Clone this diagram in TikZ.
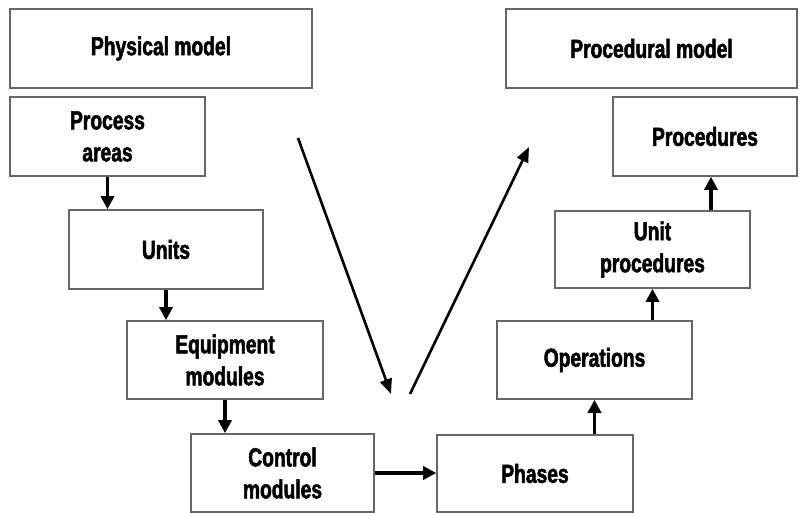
\documentclass[tikz,border=0pt]{standalone}
\usepackage{fontspec}
\setmainfont{Liberation Sans}[FakeStretch=0.74, BoldFeatures={FakeBold=2}]
\usetikzlibrary{arrows.meta,positioning}

\tikzset{
  box/.style={draw=black!60, line width=1.6pt, align=center, inner sep=0pt,
    font=\bfseries\fontsize{26}{32}\selectfont},
  arr/.style={line width=3.2pt, -{Triangle[length=13pt,width=13pt]}},
  bigarr/.style={line width=2.6pt, -{Triangle[length=15pt,width=12pt]}}
}

\begin{document}
\begin{tikzpicture}[x=1pt,y=-1pt]
\useasboundingbox (0,0) rectangle (800,513);

\node[box,minimum width=302,minimum height=79] (phys) at (161,48.5) {Physical model};
\node[box,minimum width=291,minimum height=79] (procmod) at (651.5,48.5) {Procedural model};

\node[box,minimum width=195,minimum height=79] (areas) at (107.5,136.5) {Process\\areas};
\node[box,minimum width=194,minimum height=79] (units) at (166,249.5) {Units};
\node[box,minimum width=196,minimum height=78] (equip) at (225,360) {Equipment\\modules};
\node[box,minimum width=183,minimum height=78] (ctrl) at (282.5,473) {Control\\modules};

\node[box,minimum width=196,minimum height=77] (phases) at (535,473.5) {Phases};
\node[box,minimum width=195,minimum height=78] (ops) at (594.5,360) {Operations};
\node[box,minimum width=195,minimum height=77] (unitproc) at (652.5,249.5) {Unit\\procedures};
\node[box,minimum width=184,minimum height=79] (procs) at (705,136.5) {Procedures};

% left column down
\draw[arr] (areas.south) -- (areas.south |- units.north);
\draw[arr] (units.south) -- (units.south |- equip.north);
\draw[arr] (equip.south) -- (equip.south |- ctrl.north);
\draw[arr] (ctrl.east) -- (ctrl.east -| phases.west);
% right column up
\draw[arr] (phases.north -| ops.south) -- (ops.south);
\draw[arr] (ops.north -| unitproc.south) -- (unitproc.south);
\draw[arr] ([xshift=58.5pt]unitproc.north) -- ([xshift=6pt]procs.south);

% the V
\coordinate (vtop1) at (298,138);
\coordinate (vbot1) at (391,394);
\coordinate (vbot2) at (410,394);
\coordinate (vtop2) at (529,147);
\draw[bigarr] (vtop1) -- (vbot1);
\draw[bigarr] (vbot2) -- (vtop2);

\end{tikzpicture}
\end{document}
